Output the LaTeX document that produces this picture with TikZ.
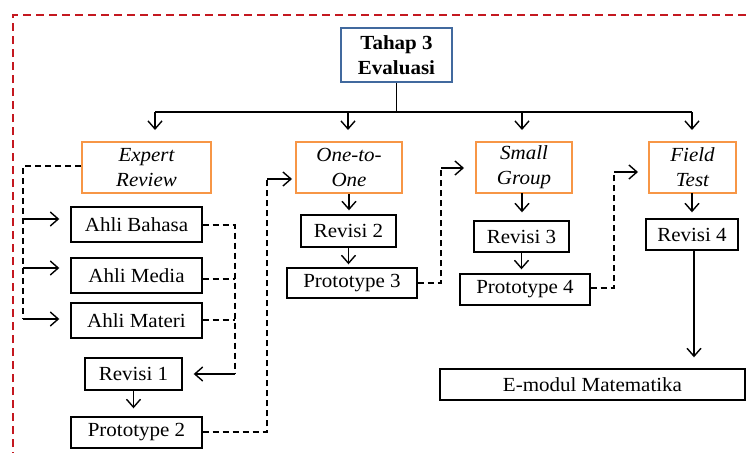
\documentclass[tikz,border=0pt]{standalone}
\usepackage{fontspec}
\setmainfont{Liberation Serif}[FakeStretch=1.05]
\usetikzlibrary{arrows.meta}
\definecolor{boxblue}{RGB}{65,105,158}
\definecolor{boxorange}{RGB}{247,150,70}
\definecolor{framered}{RGB}{196,24,32}
\begin{document}
\begin{tikzpicture}[x=1pt,y=-1pt,
  every node/.style={font=\fontsize{20}{25}\selectfont, align=center, inner sep=0pt},
  bbox/.style={draw=black, line width=1.4pt, rectangle},
  obox/.style={draw=boxorange, line width=2pt, rectangle, font=\fontsize{20}{25}\selectfont\itshape},
  tbox/.style={draw=boxblue, line width=2pt, rectangle, font=\fontsize{20}{25}\selectfont\bfseries},
  arr/.style={draw=black, line width=1.4pt, -{Straight Barb[length=8pt,width=14pt,line width=1.4pt]}},
  ln/.style={draw=black, line width=1.4pt},
  dsh/.style={draw=black, line width=1.4pt, dash pattern=on 6pt off 4pt}
]
\useasboundingbox (0,0) rectangle (746,452);
\fill[white] (0,0) rectangle (746,452);
% frame
\draw[framered, line width=2pt, dash pattern=on 8pt off 5pt] (13,460) -- (13,15) -- (760,15);

% nodes
\node[tbox, minimum width=111pt, minimum height=54pt] (tahap) at (396.5,55) {Tahap 3\\Evaluasi};
\node[obox, minimum width=129pt, minimum height=51pt] (expert) at (146.5,167.5) {Expert\\Review};
\node[obox, minimum width=106pt, minimum height=51pt] (one) at (349,167.5) {One-to-\\One};
\node[obox, minimum width=96pt, minimum height=51pt] (small) at (524,167.5) {Small\\Group};
\node[obox, minimum width=87pt, minimum height=51pt] (field) at (692.5,167.5) {Field\\Test};

\node[bbox, minimum width=131pt, minimum height=35pt] (bahasa) at (136.5,224.5) {Ahli Bahasa};
\node[bbox, minimum width=131pt, minimum height=35pt] (media) at (136.5,275.5) {Ahli Media};
\node[bbox, minimum width=131pt, minimum height=35pt] (materi) at (136.5,320.5) {Ahli Materi};
\node[bbox, minimum width=97pt, minimum height=32pt] (rev1) at (133.5,374) {Revisi 1};
\node[bbox, minimum width=131pt, minimum height=31pt] (proto2) at (136.5,432.5) {Prototype 2};

\node[bbox, minimum width=95pt, minimum height=32pt] (rev2) at (348.5,231) {Revisi 2};
\node[bbox, minimum width=130pt, minimum height=30pt] (proto3) at (352,283) {Prototype 3};
\node[bbox, minimum width=95pt, minimum height=31pt] (rev3) at (521.5,236.5) {Revisi 3};
\node[bbox, minimum width=130pt, minimum height=31pt] (proto4) at (525,289.5) {Prototype 4};
\node[bbox, minimum width=92pt, minimum height=31pt] (rev4) at (692,234.5) {Revisi 4};
\node[bbox, minimum width=305pt, minimum height=31pt] (emodul) at (592.5,384.5) {E-modul Matematika};

% top tree
\coordinate (hub) at (396.5,112);
\coordinate (hl) at (155,112);
\coordinate (h2) at (348,112);
\coordinate (h3) at (522,112);
\coordinate (hr) at (692,112);
\draw[ln] (tahap.south) -- (hub);
\draw[ln] (hl) -- (hr);
\draw[arr, shorten >=11pt] (hl) -- (hl |- expert.north);
\draw[arr, shorten >=11pt] (h2) -- (h2 |- one.north);
\draw[arr, shorten >=11pt] (h3) -- (h3 |- small.north);
\draw[arr, shorten >=11pt] (hr) -- (hr |- field.north);

% expert review branch
\coordinate (e0) at (23,166);
\coordinate (eb) at (23,219);
\coordinate (em) at (23,268);
\coordinate (et) at (23,319);
\draw[dsh] (expert.west |- e0) -- (e0) -- (et);
\draw[arr, shorten >=11pt] (eb) -- (eb -| bahasa.west);
\draw[arr, shorten >=11pt] (em) -- (em -| media.west);
\draw[arr, shorten >=11pt] (et) -- (et -| materi.west);

% ahli to revisi 1
\coordinate (a1) at (235,225);
\coordinate (a2) at (235,279);
\coordinate (a3) at (235,320);
\coordinate (a4) at (235,374);
\draw[dsh] (bahasa.east |- a1) -- (a1) -- (a4);
\draw[dsh] (media.east |- a2) -- (a2);
\draw[dsh] (materi.east |- a3) -- (a3);
\draw[arr, shorten >=11pt] (a4) -- (rev1.east |- a4);
\draw[arr, shorten >=8pt] (rev1.south) -- (rev1.south |- proto2.north);

% prototype 2 to one-to-one
\coordinate (p2a) at (267,432);
\coordinate (p2b) at (267,179);
\draw[dsh] (proto2.east |- p2a) -- (p2a) -- (p2b);
\draw[arr, shorten >=3pt] (p2b) -- (p2b -| one.west);

% one-to-one column
\draw[arr, shorten >=4pt] (one.south) -- (one.south |- rev2.north);
\draw[arr, shorten >=3pt] (rev2.south) -- (rev2.south |- proto3.north);
\coordinate (p3a) at (441,283);
\coordinate (p3b) at (441,168);
\draw[dsh] (proto3.east |- p3a) -- (p3a) -- (p3b);
\draw[arr, shorten >=11pt] (p3b) -- (p3b -| small.west);

% small group column
\coordinate (sg) at (522,193);
\draw[arr, shorten >=8pt] (sg) -- (sg |- rev3.north);
\draw[arr, shorten >=4pt] (rev3.south) -- (rev3.south |- proto4.north);
\coordinate (p4a) at (614,288);
\coordinate (p4b) at (614,172);
\draw[dsh] (proto4.east |- p4a) -- (p4a) -- (p4b);
\draw[arr, shorten >=10pt] (p4b) -- (p4b -| field.west);

% field test column
\coordinate (ft) at (692,193);
\draw[arr, shorten >=6pt] (ft) -- (ft |- rev4.north);
\coordinate (r4) at (694,250);
\draw[arr, shorten >=11pt] (r4) -- (r4 |- emodul.north);
\end{tikzpicture}
\end{document}
